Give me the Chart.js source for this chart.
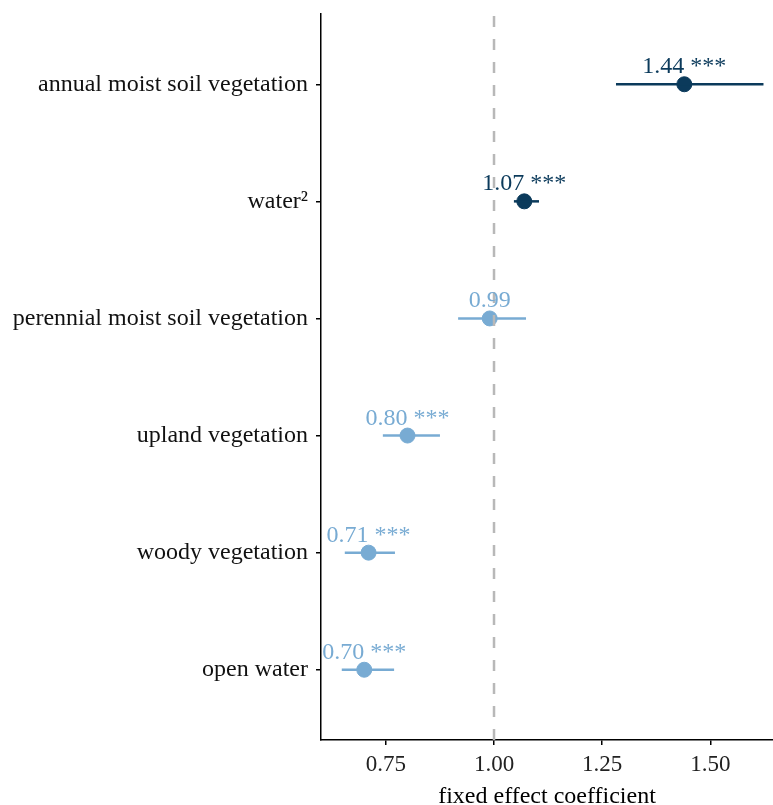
<!doctype html>
<html lang="en">
  <head>
    <script src="https://cdn.jsdelivr.net/npm/chart.js"></script>
    <style>
      body { margin: 0; background: #fff; }
      #wrap { width: 773px; height: 805px; }
    </style>
  </head>
  <body>
    <div id="wrap"><canvas id="forest"></canvas></div>
    <script>
      // top to bottom
      const terms = ['annual moist soil vegetation', 'water\u00b2', 'perennial moist soil vegetation',
                     'upland vegetation', 'woody vegetation', 'open water'];
      const estimates = [1.44, 1.07, 0.99, 0.80, 0.71, 0.70];
      const lower = [1.282, 1.046, 0.917, 0.743, 0.655, 0.648];
      const upper = [1.623, 1.104, 1.074, 0.875, 0.771, 0.769];
      const stars = ['***', '***', '', '***', '***', '***'];
      const xTicks = [0.75, 1.00, 1.25, 1.50];

      const dark = '#0b3a5b';
      const light = '#78abd3';
      const colors = estimates.map(v => v > 1 ? dark : light);

      const datasets = [];
      // reference line at 1, drawn bottom-up so the dashes start at the axis
      datasets.push({
        type: 'line',
        data: [{x: 1, y: 5.6}, {x: 1, y: -0.6}],
        borderColor: '#b8b8b8',
        borderWidth: 2.5,
        borderDash: [11, 12],
        pointRadius: 0
      });
      for (let i = 0; i < terms.length; i++) {
        datasets.push({
          type: 'line',
          data: [{x: lower[i], y: i}, {x: upper[i], y: i}],
          borderColor: colors[i],
          borderWidth: 2.5,
          pointRadius: 0
        });
      }
      datasets.push({
        type: 'scatter',
        data: estimates.map((v, i) => ({x: v, y: i})),
        backgroundColor: colors,
        borderColor: colors,
        pointRadius: 7.5,
        pointHoverRadius: 7.5
      });

      const valueLabels = {
        id: 'valueLabels',
        afterDatasetsDraw(chart) {
          const ctx = chart.ctx;
          const xs = chart.scales.x, ys = chart.scales.y;
          ctx.save();
          ctx.font = '24px "Liberation Serif"';
          ctx.textAlign = 'center';
          ctx.textBaseline = 'alphabetic';
          for (let i = 0; i < estimates.length; i++) {
            const txt = estimates[i].toFixed(2) + (stars[i] ? ' ' + stars[i] : '');
            ctx.fillStyle = colors[i];
            ctx.fillText(txt, xs.getPixelForValue(estimates[i]), ys.getPixelForValue(i) - 11);
          }
          ctx.restore();
        }
      };

      new Chart(document.getElementById('forest'), {
        type: 'scatter',
        data: { datasets: datasets },
        options: {
          responsive: true,
          maintainAspectRatio: false,
          animation: false,
          layout: { autoPadding: false, padding: { top: 14, right: 0, left: 0, bottom: 0 } },
          plugins: {
            legend: { display: false },
            tooltip: { enabled: false }
          },
          scales: {
            x: {
              type: 'linear',
              min: 0.6,
              max: 1.645,
              afterBuildTicks: s => { s.ticks = xTicks.map(v => ({value: v})); },
              afterFit: s => { s.height = 65; s.paddingLeft = 0; s.paddingRight = 0; },
              grid: { drawOnChartArea: false, drawTicks: true, tickLength: 5, color: '#000', lineWidth: 1.5 },
              border: { display: true, color: '#000', width: 1.5 },
              ticks: {
                color: '#222',
                font: { family: 'Liberation Serif', size: 23 },
                padding: 6,
                maxRotation: 0,
                callback: v => v.toFixed(2)
              },
              title: {
                display: true,
                text: 'fixed effect coefficient',
                color: '#000',
                font: { family: 'Liberation Serif', size: 24 },
                padding: { top: 4, bottom: -6 }
              }
            },
            y: {
              type: 'linear',
              reverse: true,
              min: -0.6,
              max: 5.6,
              afterBuildTicks: s => { s.ticks = terms.map((t, i) => ({value: i})); },
              afterFit: s => { s.width = 321; s.paddingTop = 0; s.paddingBottom = 0; },
              grid: { drawOnChartArea: false, drawTicks: true, tickLength: 5, color: '#000', lineWidth: 1.5 },
              border: { display: true, color: '#000', width: 1.5 },
              ticks: {
                color: '#111',
                font: { family: 'Liberation Serif', size: 24 },
                padding: 8,
                callback: v => terms[v]
              }
            }
          }
        },
        plugins: [valueLabels]
      });
    </script>
  </body>
</html>
